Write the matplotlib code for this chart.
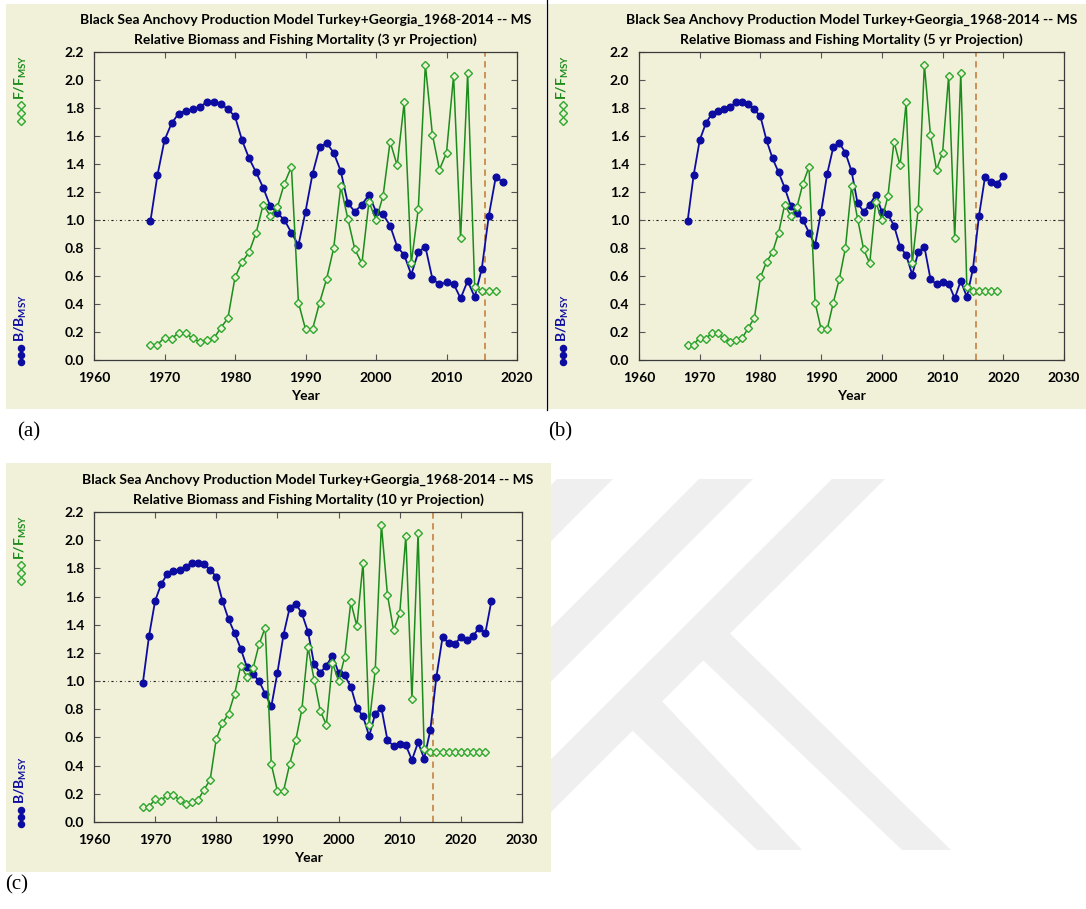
import numpy as np
import matplotlib
matplotlib.use("Agg")
import matplotlib.pyplot as plt
from matplotlib.patches import Rectangle, Polygon
from matplotlib.lines import Line2D

# ---------------------------------------------------------------- data
YEARS_B = np.arange(1968, 2026)
B_RATIO = [0.99, 1.32, 1.57, 1.69, 1.76, 1.78, 1.79, 1.81, 1.84, 1.84,
           1.83, 1.79, 1.74, 1.57, 1.44, 1.34, 1.23, 1.10, 1.05, 1.00,
           0.91, 0.82, 1.06, 1.33, 1.52, 1.55, 1.48, 1.35, 1.12, 1.06,
           1.11, 1.18, 1.06, 1.04, 0.96, 0.81, 0.75, 0.61, 0.77, 0.81,
           0.58, 0.54, 0.555, 0.545, 0.44, 0.565, 0.45, 0.65, 1.03, 1.31,
           1.27, 1.26, 1.315, 1.29, 1.32, 1.38, 1.34, 1.57]

YEARS_F = np.arange(1968, 2025)
F_RATIO = [0.11, 0.11, 0.16, 0.15, 0.195, 0.19, 0.155, 0.13, 0.145, 0.155,
           0.23, 0.30, 0.59, 0.70, 0.77, 0.91, 1.11, 1.03, 1.09, 1.26,
           1.38, 0.41, 0.22, 0.22, 0.41, 0.58, 0.80, 1.24, 1.01, 0.79,
           0.69, 1.13, 1.00, 1.17, 1.56, 1.39, 1.84, 0.69, 1.08, 2.11,
           1.61, 1.36, 1.48, 2.03, 0.87, 2.05, 0.52,
           0.495, 0.495, 0.495, 0.495, 0.495,
           0.495, 0.495, 0.495, 0.495, 0.495]

PROJ_YEARS = [3, 5, 10]          # projection length of each panel
B_LAST = [2018, 2020, 2025]      # last biomass year drawn per panel
F_LAST = [2017, 2019, 2024]      # last fishing-mortality year per panel
X_MAX = [2020, 2030, 2030]
REF_LEVEL = 1.0
ASSESS_END = 2015.5
PANEL_TAGS = ["(a)", "(b)", "(c)"]

TITLE1 = "Black Sea Anchovy Production Model Turkey+Georgia_1968-2014 -- MS"
TITLE2 = "Relative Biomass and Fishing Mortality ({} yr Projection)"

# ---------------------------------------------------------------- style
W, H = 1086, 909
BEIGE = "#f1f0d9"
BLUE = "#0c0ca0"
GREEN_LINE = "#1c8c1c"
GREEN_MARK = "#2ea82e"
VLINE = "#c98a4e"
FONT = "Lato"

plt.rcParams["font.family"] = [FONT, "DejaVu Sans"]
plt.rcParams["font.weight"] = "bold"
plt.rcParams["mathtext.fontset"] = "custom"
plt.rcParams["mathtext.rm"] = "Lato:bold"
plt.rcParams["mathtext.bf"] = "Lato:bold"
plt.rcParams["mathtext.it"] = "Lato:bold"

fig = plt.figure(figsize=(W / 100, H / 100), dpi=100)
fig.patch.set_facecolor("white")


def fx(x):
    return x / W


def fy(y):
    return 1 - y / H


# light logo behind the panels
logo = [
    [(557, 479), (613, 479), (243, 850), (187, 850)],
    [(699, 479), (753, 479), (383, 850), (329, 850)],
    [(832, 479), (885, 479), (513, 850), (460, 850)],
    [(611, 710), (642, 680), (802, 850), (757, 850)],
    [(683, 641), (710, 614), (951, 850), (902, 850)],
]
for poly in logo:
    fig.patches.append(Polygon([(fx(x), fy(y)) for x, y in poly], closed=True,
                               transform=fig.transFigure, facecolor="#efefef",
                               edgecolor="none", zorder=-3))

# layout of the three panels in pixels: background box and plot frame
layout = [
    dict(bg=(6, 546, 4, 409), frame=(94, 517, 52, 360), tag=(17, 432)),
    dict(bg=(548, 1086, 4, 409), frame=(639, 1064, 52, 360), tag=(548, 432)),
    dict(bg=(6, 551, 463, 872), frame=(94, 522, 512, 822), tag=(5, 885)),
]

for i, lay in enumerate(layout):
    bl, br, bt, bb = lay["bg"]
    fig.patches.append(Rectangle((fx(bl), fy(bb)), (br - bl) / W, (bb - bt) / H,
                                 transform=fig.transFigure, facecolor=BEIGE,
                                 edgecolor="none", zorder=-2))
    l, r, t, b = lay["frame"]
    ax = fig.add_axes([fx(l), fy(b), (r - l) / W, (b - t) / H])
    ax.set_facecolor(BEIGE)

    bmask = YEARS_B <= B_LAST[i]
    fmask = YEARS_F <= F_LAST[i]
    bx = YEARS_B[bmask]
    by = np.array(B_RATIO)[bmask]
    fxv = YEARS_F[fmask]
    fyv = np.array(F_RATIO)[fmask]

    ax.axhline(REF_LEVEL, color="#222222", lw=0.8, ls=(0, (2, 2.5, 0.6, 2.5)), zorder=1)
    ax.axvline(ASSESS_END, color=VLINE, lw=1.3, ls=(0, (3.5, 2.5)), zorder=1)

    ax.plot(bx, by, color=BLUE, lw=1.3, marker="o", ms=4.8, mfc=BLUE,
            mec=BLUE, zorder=3)
    ax.plot(fxv, fyv, color=GREEN_LINE, lw=1.1, marker="D", ms=4.0,
            mfc=BEIGE, mec=GREEN_MARK, mew=1.0, zorder=4)

    ax.set_xlim(1960, X_MAX[i])
    ax.set_ylim(0, 2.2)
    ax.set_xticks(np.arange(1960, X_MAX[i] + 1, 10))
    ax.set_yticks(np.arange(0, 2.21, 0.2))
    ax.set_yticklabels([f"{v:.1f}" for v in np.arange(0, 2.21, 0.2)])
    ax.tick_params(direction="in", length=4, width=0.8, color="#555555",
                   top=True, right=True, labelsize=10, pad=7)
    ax.tick_params(axis="x", pad=9)
    for lab in ax.get_xticklabels() + ax.get_yticklabels():
        lab.set_fontweight("bold")
    for sp in ax.spines.values():
        sp.set_color("#3a3a3a")
        sp.set_linewidth(0.9)

    cx = (l + r) / 2
    fig.text(fx(cx), fy(t - 32), TITLE1, ha="center", va="center",
             fontsize=10, fontweight="bold")
    fig.text(fx(cx), fy(t - 12), TITLE2.format(PROJ_YEARS[i]), ha="center",
             va="center", fontsize=10, fontweight="bold")
    fig.text(fx(cx), fy(b + 36), "Year", ha="center", va="center",
             fontsize=10, fontweight="bold")

    # rotated series key on the left edge
    kx = bl + 15
    fig.text(fx(kx), fy(t + 25), r"F/F$_{\mathrm{MSY}}$", rotation=90,
             ha="center", va="center", fontsize=10, color=GREEN_LINE,
             fontweight="bold")
    fig.lines.append(Line2D([fx(kx)] * 3, [fy(t + 53), fy(t + 61), fy(t + 69)],
                            transform=fig.transFigure, ls="none", marker="D",
                            ms=3.6, mfc=BEIGE, mec=GREEN_MARK, mew=1.0))
    fig.text(fx(kx), fy(b - 42), r"B/B$_{\mathrm{MSY}}$", rotation=90,
             ha="center", va="center", fontsize=10, color=BLUE,
             fontweight="bold")
    fig.lines.append(Line2D([fx(kx)] * 3, [fy(b - 12), fy(b - 5), fy(b + 2)],
                            transform=fig.transFigure, ls="none", marker="o",
                            ms=4.4, mfc=BLUE, mec=BLUE))

    tx, ty = lay["tag"]
    fig.text(fx(tx), fy(ty), PANEL_TAGS[i], ha="left", va="center",
             fontsize=15, family="Liberation Serif", fontweight="normal")

# thin separator between the upper panels
fig.lines.append(Line2D([fx(546.5), fx(546.5)], [fy(0), fy(410)],
                        transform=fig.transFigure, color="black", lw=0.9))

fig.savefig("out.png", dpi=100, facecolor="white")
